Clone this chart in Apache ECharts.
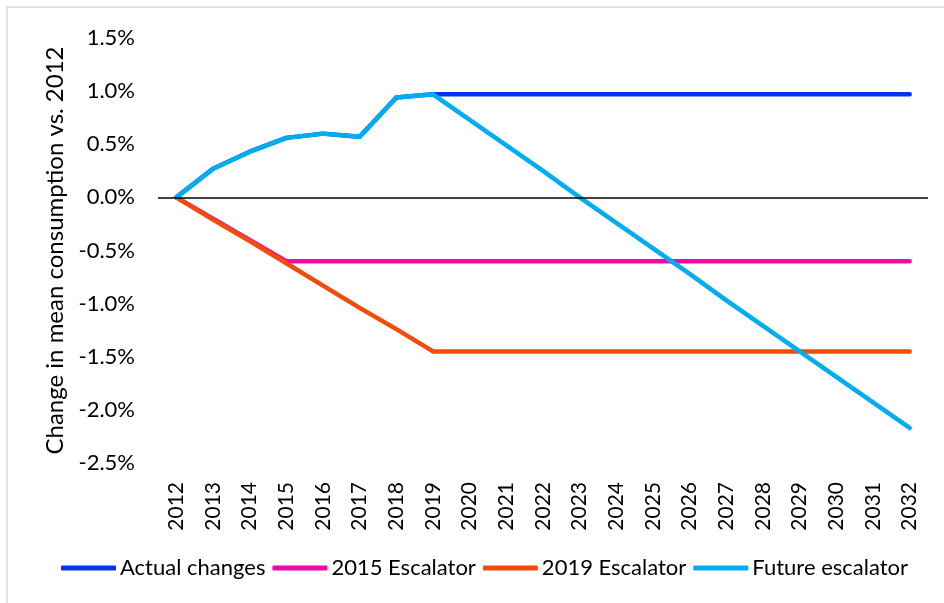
<!DOCTYPE html>
<html>
<head>
<meta charset="utf-8">
<script src="https://cdn.jsdelivr.net/npm/echarts@6/dist/echarts.min.js"></script>
<style>
html,body{margin:0;padding:0;background:#fff;}
#chart{width:944px;height:603px;}
</style>
</head>
<body>
<div id="chart"></div>
<script>
const years = ['2012','2013','2014','2015','2016','2017','2018','2019','2020','2021','2022','2023','2024','2025','2026','2027','2028','2029','2030','2031','2032'];
const actualChanges = [0, 0.27, 0.43, 0.56, 0.60, 0.57, 0.94, 0.97, 0.97, 0.97, 0.97, 0.97, 0.97, 0.97, 0.97, 0.97, 0.97, 0.97, 0.97, 0.97, 0.97];
const escalator2015 = [0, -0.2, -0.4, -0.6, -0.6, -0.6, -0.6, -0.6, -0.6, -0.6, -0.6, -0.6, -0.6, -0.6, -0.6, -0.6, -0.6, -0.6, -0.6, -0.6, -0.6];
const escalator2019 = [0, -0.21, -0.41, -0.62, -0.83, -1.04, -1.24, -1.45, -1.45, -1.45, -1.45, -1.45, -1.45, -1.45, -1.45, -1.45, -1.45, -1.45, -1.45, -1.45, -1.45];
const futureEscalator = [0, 0.27, 0.43, 0.56, 0.60, 0.57, 0.94, 0.97, 0.73, 0.49, 0.25, 0.00, -0.24, -0.48, -0.72, -0.97, -1.21, -1.45, -1.69, -1.93, -2.17];
const seriesNames = ['Actual changes', '2015 Escalator', '2019 Escalator', 'Future escalator'];
const yTitle = 'Change in mean consumption vs. 2012';

const colors = ['#0433F5', '#EE0AAA', '#F24B0A', '#00AEEF'];
const font = 'Lato, "Open Sans", sans-serif';

function lineSeries(name, data, color, extra) {
  return Object.assign({
    name: name,
    type: 'line',
    data: data,
    symbol: 'none',
    lineStyle: { color: color, width: 4.5, cap: 'round', join: 'round' },
    itemStyle: { color: color },
    emphasis: { disabled: true },
    animation: false
  }, extra || {});
}

const chart = echarts.init(document.getElementById('chart'), null, { renderer: 'canvas' });
chart.setOption({
  animation: false,
  backgroundColor: '#fff',
  graphic: [{
    type: 'rect',
    shape: { x: 7, y: 7, width: 960, height: 640 },
    style: { fill: 'none', stroke: '#d9d9d9', lineWidth: 1.5 },
    silent: true
  }],
  grid: { left: 158, right: 16, top: 38, bottom: 140, containLabel: false },
  legend: {
    top: 552,
    left: 56,
    itemWidth: 55,
    itemHeight: 5,
    itemGap: 7,
    icon: 'roundRect',
    textStyle: { fontFamily: font, fontSize: 22, color: '#000', padding: [0, 0, 0, -1] },
    data: seriesNames
  },
  xAxis: {
    type: 'category',
    data: years,
    boundaryGap: true,
    axisLine: { show: false },
    axisTick: { show: false },
    axisLabel: { rotate: 90, fontFamily: font, fontSize: 21, color: '#000', margin: 19, interval: 0 }
  },
  yAxis: {
    type: 'value',
    min: -2.5,
    max: 1.5,
    interval: 0.5,
    name: yTitle,
    nameLocation: 'middle',
    nameGap: 88,
    nameTextStyle: { fontFamily: font, fontSize: 24, color: '#000' },
    axisLine: { show: false },
    axisTick: { show: false },
    splitLine: { show: false },
    axisLabel: {
      fontFamily: font, fontSize: 22, color: '#000', margin: 23,
      formatter: v => v.toFixed(1) + '%'
    }
  },
  series: [
    lineSeries(seriesNames[0], actualChanges, colors[0], {
      markLine: {
        silent: true,
        symbol: 'none',
        label: { show: false },
        lineStyle: { color: '#000', width: 1.5, type: 'solid' },
        data: [{ yAxis: 0 }],
        animation: false
      }
    }),
    lineSeries(seriesNames[1], escalator2015, colors[1]),
    lineSeries(seriesNames[2], escalator2019, colors[2]),
    lineSeries(seriesNames[3], futureEscalator, colors[3])
  ]
});
</script>
</body>
</html>
